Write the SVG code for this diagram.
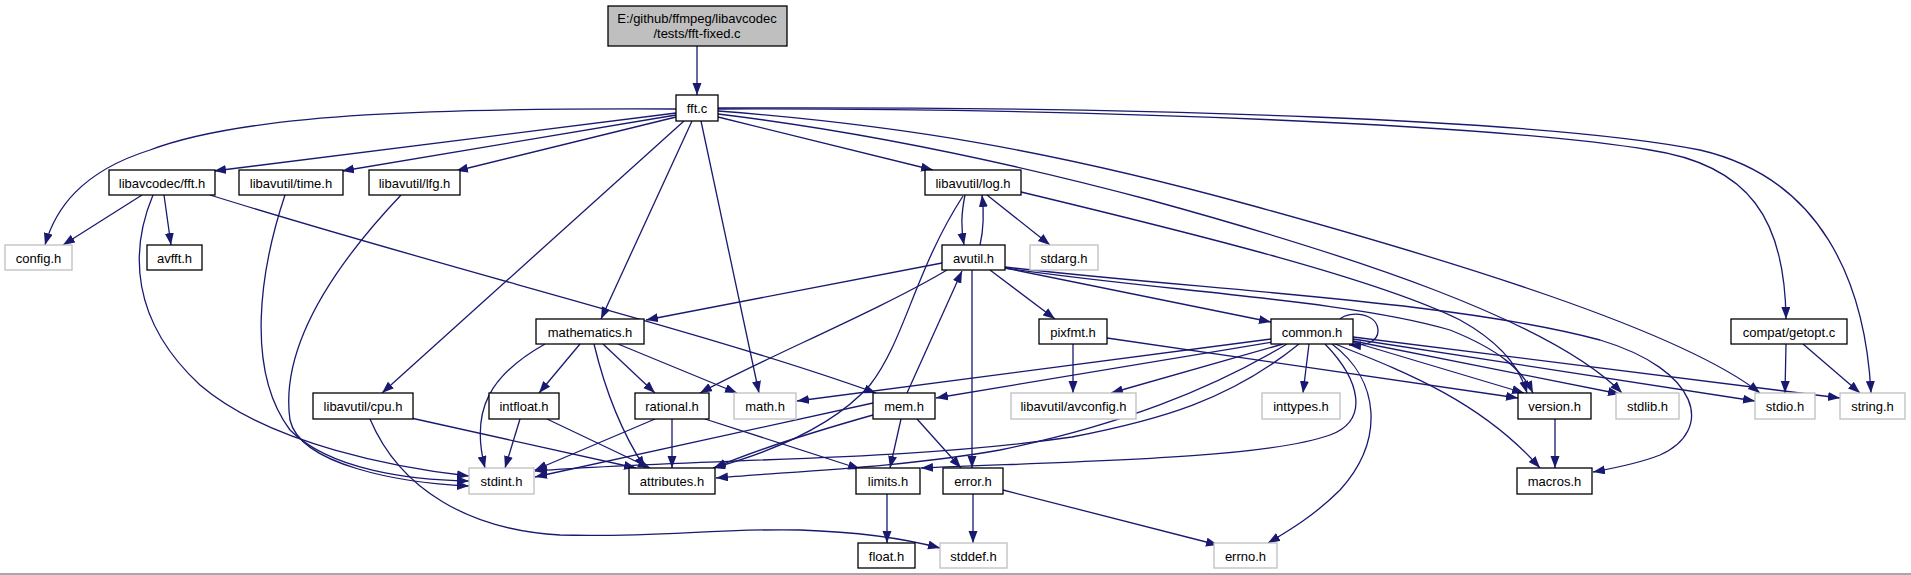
<svg xmlns="http://www.w3.org/2000/svg" width="1911" height="575" viewBox="0 0 1911 575">
<style>
.n rect{fill:#ffffff;stroke:#000000;stroke-width:1.3}
.g rect{fill:#ffffff;stroke:#bfbfbf;stroke-width:1.3}
.s rect{fill:#bfbfbf;stroke:#000000;stroke-width:1.3}
text{font-family:"Liberation Sans",Arial,sans-serif;font-size:13px;fill:#000000;text-anchor:middle}
#edges path{fill:none;stroke:#191970;stroke-width:1.3;marker-end:url(#a)}
</style>
<defs>
<marker id="a" markerUnits="userSpaceOnUse" markerWidth="13" markerHeight="10" refX="12" refY="4.5" orient="auto">
<path d="M0,0 L12,4.5 L0,9 z" fill="#191970"/>
</marker>
</defs>
<rect x="0" y="0" width="1911" height="575" fill="#ffffff"/>
<line x1="0" y1="574" x2="1911" y2="574" stroke="#a8a8a8" stroke-width="2"/>
<g id="edges">
<path d="M697,46 L697,95"/>
<path d="M676,109 C450,108 250,112 150,150 C80,172 55,210 45,245"/>
<path d="M676,113 L214,171"/>
<path d="M676,115 L342,171"/>
<path d="M676,117 L456,171"/>
<path d="M718,117 L933,170"/>
<path d="M684,121 L382,393"/>
<path d="M692,121 L601,319"/>
<path d="M701,121 L759,393"/>
<path d="M718,114 C850,130 1000,160 1150,200 C1350,255 1550,320 1622,393"/>
<path d="M718,111 C900,125 1050,150 1250,205 C1450,260 1680,330 1760,393"/>
<path d="M718,109 C1100,108 1500,125 1650,150 C1750,165 1785,220 1786,319"/>
<path d="M718,108 C1150,106 1550,120 1700,150 C1820,178 1865,280 1871,393"/>
<path d="M142,195 L63,245"/>
<path d="M164,195 L171,245"/>
<path d="M153,195 C130,250 130,320 200,385 C270,445 400,468 469,476"/>
<path d="M210,195 C450,270 700,330 876,393"/>
<path d="M285,195 C260,270 245,370 290,430 C330,470 410,480 469,481"/>
<path d="M401,195 C330,270 280,350 290,420 C300,465 400,483 469,486"/>
<path d="M965,195 C961,215 961,228 964,245"/>
<path d="M980,245 C984,228 984,212 982,195"/>
<path d="M987,195 L1050,245"/>
<path d="M963,196 C915,270 905,340 870,385 C830,430 760,455 713,468"/>
<path d="M1021,192 C1200,235 1380,280 1460,320 C1500,342 1520,368 1527,393"/>
<path d="M942,263 L646,320"/>
<path d="M947,270 C880,310 760,360 700,393"/>
<path d="M990,270 L1055,319"/>
<path d="M1005,268 L1271,322"/>
<path d="M972,270 L972,468"/>
<path d="M1005,268 C1150,290 1350,300 1450,330 C1500,350 1522,370 1533,393"/>
<path d="M1005,267 C1200,290 1450,300 1600,340 C1700,370 1715,430 1660,455 C1640,463 1615,468 1593,472"/>
<path d="M545,344 C490,375 470,410 485,468"/>
<path d="M580,344 L539,393"/>
<path d="M603,344 L655,393"/>
<path d="M618,344 L737,393"/>
<path d="M594,344 C605,390 620,430 645,468"/>
<path d="M1073,344 L1073,393"/>
<path d="M1107,338 L1518,398"/>
<path d="M1340,319 C1350,310 1378,313 1378,331 C1378,342 1365,346 1349,345"/>
<path d="M1271,339 L797,401"/>
<path d="M1273,342 L936,398"/>
<path d="M1283,344 L1111,393"/>
<path d="M1309,344 L1303,393"/>
<path d="M1299,344 C1230,400 1160,420 1072,437 C900,462 700,458 535,471"/>
<path d="M1287,344 C1210,390 1120,425 1000,450 C900,468 780,472 716,478"/>
<path d="M1325,344 C1360,380 1370,420 1330,435 C1260,460 1050,462 921,468"/>
<path d="M1332,344 C1380,380 1385,440 1340,490 C1315,515 1290,530 1268,543"/>
<path d="M1353,342 L1524,393"/>
<path d="M1353,341 L1620,394"/>
<path d="M1353,339 L1755,401"/>
<path d="M1353,337 L1840,398"/>
<path d="M1335,344 C1400,370 1480,400 1540,468"/>
<path d="M1786,344 L1785,393"/>
<path d="M1803,344 L1860,393"/>
<path d="M411,418 L636,468"/>
<path d="M370,419 C400,490 470,530 560,535 C650,538 720,528 800,530 C860,532 910,540 940,548"/>
<path d="M520,419 L505,468"/>
<path d="M547,419 L650,468"/>
<path d="M655,419 L535,470"/>
<path d="M672,419 L672,468"/>
<path d="M705,419 L860,469"/>
<path d="M907,393 L962,271"/>
<path d="M873,403 L535,477"/>
<path d="M873,415 C820,430 760,448 714,468"/>
<path d="M901,419 L890,468"/>
<path d="M917,419 L961,468"/>
<path d="M887,494 L887,543"/>
<path d="M973,494 L973,543"/>
<path d="M1003,490 L1218,545"/>
<path d="M1555,419 L1555,468"/>
</g>
<g id="fft-fixed-c" class="s"><rect x="608" y="6" width="179" height="40"/><text x="697" y="23">E:/github/ffmpeg/libavcodec</text><text x="697" y="38">/tests/fft-fixed.c</text></g>
<g id="fft-c" class="n"><rect x="676" y="95" width="42" height="26"/><text x="697" y="112.5">fft.c</text></g>
<g id="libavcodec-fft-h" class="n"><rect x="109" y="170" width="106" height="25"/><text x="162" y="187.5">libavcodec/fft.h</text></g>
<g id="libavutil-time-h" class="n"><rect x="239" y="170" width="104" height="25"/><text x="291" y="187.5">libavutil/time.h</text></g>
<g id="libavutil-lfg-h" class="n"><rect x="369" y="170" width="91" height="25"/><text x="414.5" y="187.5">libavutil/lfg.h</text></g>
<g id="libavutil-log-h" class="n"><rect x="925" y="170" width="96" height="25"/><text x="973" y="187.5">libavutil/log.h</text></g>
<g id="config-h" class="g"><rect x="5" y="245" width="67" height="25"/><text x="38.5" y="262.5">config.h</text></g>
<g id="avfft-h" class="n"><rect x="147" y="245" width="55" height="25"/><text x="174.5" y="262.5">avfft.h</text></g>
<g id="avutil-h" class="n"><rect x="942" y="245" width="63" height="25"/><text x="973.5" y="262.5">avutil.h</text></g>
<g id="stdarg-h" class="g"><rect x="1030" y="245" width="68" height="25"/><text x="1064" y="262.5">stdarg.h</text></g>
<g id="mathematics-h" class="n"><rect x="536" y="319" width="108" height="25"/><text x="590" y="336.5">mathematics.h</text></g>
<g id="pixfmt-h" class="n"><rect x="1039" y="319" width="68" height="25"/><text x="1073" y="336.5">pixfmt.h</text></g>
<g id="common-h" class="n"><rect x="1271" y="319" width="82" height="25"/><text x="1312" y="336.5">common.h</text></g>
<g id="compat-getopt-c" class="n"><rect x="1731" y="319" width="116" height="25"/><text x="1789" y="336.5">compat/getopt.c</text></g>
<g id="libavutil-cpu-h" class="n"><rect x="313" y="393" width="100" height="26"/><text x="363" y="410.5">libavutil/cpu.h</text></g>
<g id="intfloat-h" class="n"><rect x="489" y="393" width="70" height="26"/><text x="524" y="410.5">intfloat.h</text></g>
<g id="rational-h" class="n"><rect x="635" y="393" width="74" height="26"/><text x="672" y="410.5">rational.h</text></g>
<g id="math-h" class="g"><rect x="734" y="393" width="62" height="26"/><text x="765" y="410.5">math.h</text></g>
<g id="mem-h" class="n"><rect x="873" y="393" width="62" height="26"/><text x="904" y="410.5">mem.h</text></g>
<g id="libavutil-avconfig-h" class="g"><rect x="1011" y="393" width="125" height="26"/><text x="1073.5" y="410.5">libavutil/avconfig.h</text></g>
<g id="inttypes-h" class="g"><rect x="1262" y="393" width="78" height="26"/><text x="1301" y="410.5">inttypes.h</text></g>
<g id="version-h" class="n"><rect x="1518" y="393" width="73" height="26"/><text x="1554.5" y="410.5">version.h</text></g>
<g id="stdlib-h" class="g"><rect x="1616" y="393" width="63" height="26"/><text x="1647.5" y="410.5">stdlib.h</text></g>
<g id="stdio-h" class="g"><rect x="1755" y="393" width="60" height="26"/><text x="1785" y="410.5">stdio.h</text></g>
<g id="string-h" class="g"><rect x="1840" y="393" width="65" height="26"/><text x="1872.5" y="410.5">string.h</text></g>
<g id="stdint-h" class="g"><rect x="469" y="468" width="65" height="26"/><text x="501.5" y="485.5">stdint.h</text></g>
<g id="attributes-h" class="n"><rect x="629" y="468" width="86" height="26"/><text x="672" y="485.5">attributes.h</text></g>
<g id="limits-h" class="n"><rect x="856" y="468" width="64" height="26"/><text x="888" y="485.5">limits.h</text></g>
<g id="error-h" class="n"><rect x="943" y="468" width="60" height="26"/><text x="973" y="485.5">error.h</text></g>
<g id="macros-h" class="n"><rect x="1517" y="468" width="75" height="26"/><text x="1554.5" y="485.5">macros.h</text></g>
<g id="float-h" class="n"><rect x="858" y="543" width="57" height="25"/><text x="886.5" y="560.5">float.h</text></g>
<g id="stddef-h" class="g"><rect x="940" y="543" width="67" height="25"/><text x="973.5" y="560.5">stddef.h</text></g>
<g id="errno-h" class="g"><rect x="1214" y="543" width="63" height="25"/><text x="1245.5" y="560.5">errno.h</text></g>
</svg>
